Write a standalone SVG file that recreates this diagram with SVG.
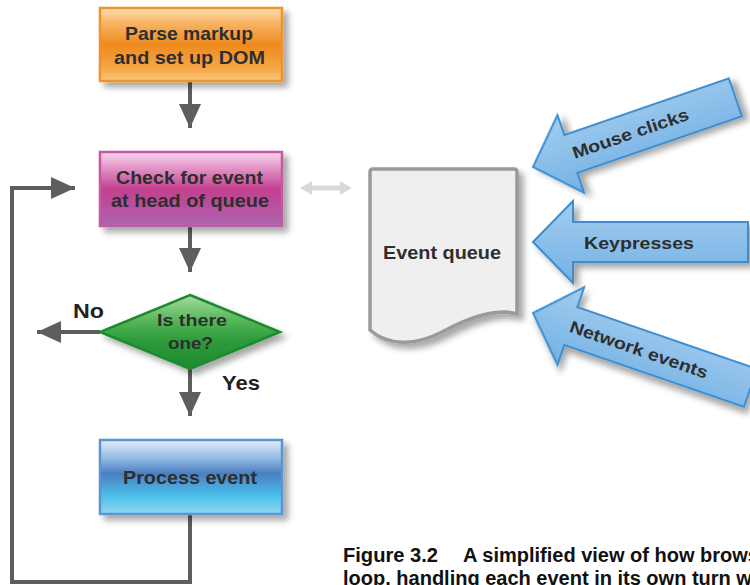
<svg xmlns="http://www.w3.org/2000/svg" width="750" height="585" viewBox="0 0 750 585">
<defs>
<style>
.t{font-family:"Liberation Sans",Arial,sans-serif;font-weight:bold;fill:#2e2e2e;text-anchor:middle}
.lbl{font-family:"Liberation Sans",Arial,sans-serif;font-weight:bold;fill:#222;font-size:21px}
.cap{font-family:"Liberation Sans",Arial,sans-serif;font-weight:bold;fill:#111;font-size:20px}
.c{fill:none;stroke:#5e5e5e;stroke-width:4}
.ba{stroke:#3b8ed2;stroke-width:2;fill:url(#gArrow)}
</style>
<linearGradient id="gOrange" x1="0" y1="0" x2="0" y2="1">
<stop offset="0" stop-color="#fde0b4"/><stop offset="0.2" stop-color="#f8b565"/><stop offset="0.5" stop-color="#ee8a1e"/><stop offset="0.85" stop-color="#f6a94a"/><stop offset="1" stop-color="#fbc97a"/>
</linearGradient>
<linearGradient id="gMag" x1="0" y1="0" x2="0" y2="1">
<stop offset="0" stop-color="#f7d6ec"/><stop offset="0.22" stop-color="#e393c7"/><stop offset="0.5" stop-color="#c2408e"/><stop offset="0.85" stop-color="#b458a6"/><stop offset="1" stop-color="#a86ab2"/>
</linearGradient>
<linearGradient id="gGreen" x1="0" y1="0" x2="0" y2="1">
<stop offset="0" stop-color="#a6dc9e"/><stop offset="0.35" stop-color="#55b658"/><stop offset="0.6" stop-color="#2e9c3b"/><stop offset="1" stop-color="#1f8a30"/>
</linearGradient>
<linearGradient id="gBlue" x1="0" y1="0" x2="0" y2="1">
<stop offset="0" stop-color="#e3effa"/><stop offset="0.25" stop-color="#93b9e3"/><stop offset="0.45" stop-color="#4a7fc2"/><stop offset="0.75" stop-color="#4cbfea"/><stop offset="1" stop-color="#8fd5f0"/>
</linearGradient>
<linearGradient id="gArrow" x1="0" y1="0" x2="0" y2="1">
<stop offset="0" stop-color="#a4cdef"/><stop offset="1" stop-color="#72b1e4"/>
</linearGradient>
<filter id="sh" x="-20%" y="-20%" width="150%" height="160%">
<feDropShadow dx="5" dy="5" stdDeviation="3" flood-color="#000" flood-opacity="0.35"/>
</filter>
<marker id="ah" markerUnits="userSpaceOnUse" markerWidth="26" markerHeight="22" refX="24" refY="11" orient="auto">
<path d="M0,0 L24,11 L0,22 Z" fill="#5e5e5e"/>
</marker>
</defs>
<rect width="750" height="585" fill="#fff"/>

<g id="connectors">
<path class="c" d="M190,82 V128" marker-end="url(#ah)"/>
<path class="c" d="M190,226 V272" marker-end="url(#ah)"/>
<path class="c" d="M190,369 V416" marker-end="url(#ah)"/>
<path class="c" d="M100,332 H37" marker-end="url(#ah)"/>
<path class="c" d="M190,514 V582 H12 V188 H75" marker-end="url(#ah)"/>
<path d="M300,188 L312,181 L312,185.5 L340,185.5 L340,181 L352,188 L340,195 L340,190.5 L312,190.5 L312,195 Z" fill="#d9d9d9"/>
</g>

<g id="parse">
<rect x="100" y="8" width="182" height="73" fill="url(#gOrange)" stroke="#f0922a" stroke-width="2.5" filter="url(#sh)"/>
<text class="t" font-size="18.5" x="189" y="40" textLength="128" lengthAdjust="spacingAndGlyphs">Parse markup</text>
<text class="t" font-size="18.5" x="189.5" y="64" textLength="151" lengthAdjust="spacingAndGlyphs">and set up DOM</text>
</g>

<g id="check">
<rect x="100" y="152" width="182" height="74" fill="url(#gMag)" stroke="#c55aa4" stroke-width="2.5" filter="url(#sh)"/>
<text class="t" font-size="18.5" x="189.5" y="184" textLength="147" lengthAdjust="spacingAndGlyphs">Check for event</text>
<text class="t" font-size="18.5" x="190" y="207" textLength="158" lengthAdjust="spacingAndGlyphs">at head of queue</text>
</g>

<g id="decision">
<path d="M190,295 L280,332 L190,369 L100,332 Z" fill="url(#gGreen)" stroke="#1f8a2e" stroke-width="2.5" filter="url(#sh)"/>
<text class="t" font-size="17" x="192" y="326" fill="#233a24" textLength="70" lengthAdjust="spacingAndGlyphs">Is there</text>
<text class="t" font-size="17" x="190.5" y="349" textLength="45" lengthAdjust="spacingAndGlyphs">one?</text>
<text class="lbl" x="73" y="318" textLength="31" lengthAdjust="spacingAndGlyphs">No</text>
<text class="lbl" x="222" y="390" textLength="38" lengthAdjust="spacingAndGlyphs">Yes</text>
</g>

<g id="process">
<rect x="100" y="440" width="182" height="74" fill="url(#gBlue)" stroke="#5a95d0" stroke-width="2.5" filter="url(#sh)"/>
<text class="t" font-size="18.5" x="190" y="484" textLength="134" lengthAdjust="spacingAndGlyphs">Process event</text>
</g>

<g id="queue">
<path d="M373,169 L514,169 Q517,169 517,172 L517,314 C497,308 472,316 442,332 C415,346 388,346 370,330 L370,172 Q370,169 373,169 Z" fill="#efefef" stroke="#9e9898" stroke-width="3.5" filter="url(#sh)"/>
<text class="t" font-size="18" x="442" y="259" textLength="118" lengthAdjust="spacingAndGlyphs">Event queue</text>
</g>

<g id="mouse" transform="translate(533,167) rotate(-19)">
<path class="ba" d="M0,0 L40,-41 L40,-20 L214,-20 L214,20 L40,20 L40,41 Z" filter="url(#sh)"/>
<text class="t" font-size="17" x="103" y="6" textLength="122" lengthAdjust="spacingAndGlyphs">Mouse clicks</text>
</g>

<g id="keys" transform="translate(533,242)">
<path class="ba" d="M0,0 L40,-41 L40,-20 L215,-20 L215,20 L40,20 L40,41 Z" filter="url(#sh)"/>
<text class="t" font-size="17" x="106" y="7" textLength="110" lengthAdjust="spacingAndGlyphs">Keypresses</text>
</g>

<g id="network" transform="translate(533,313) rotate(19)">
<path class="ba" d="M0,0 L40,-41 L40,-20 L230,-20 L230,20 L40,20 L40,41 Z" filter="url(#sh)"/>
<text class="t" font-size="17" x="112" y="6" textLength="145" lengthAdjust="spacingAndGlyphs">Network events</text>
</g>

<g id="caption">
<text class="cap" x="343" y="562" textLength="95" lengthAdjust="spacingAndGlyphs">Figure 3.2</text>
<text class="cap" x="463" y="562">A simplified view of how brows</text>
<text class="cap" x="343" y="585">loop, handling each event in its own turn w</text>
</g>
</svg>
